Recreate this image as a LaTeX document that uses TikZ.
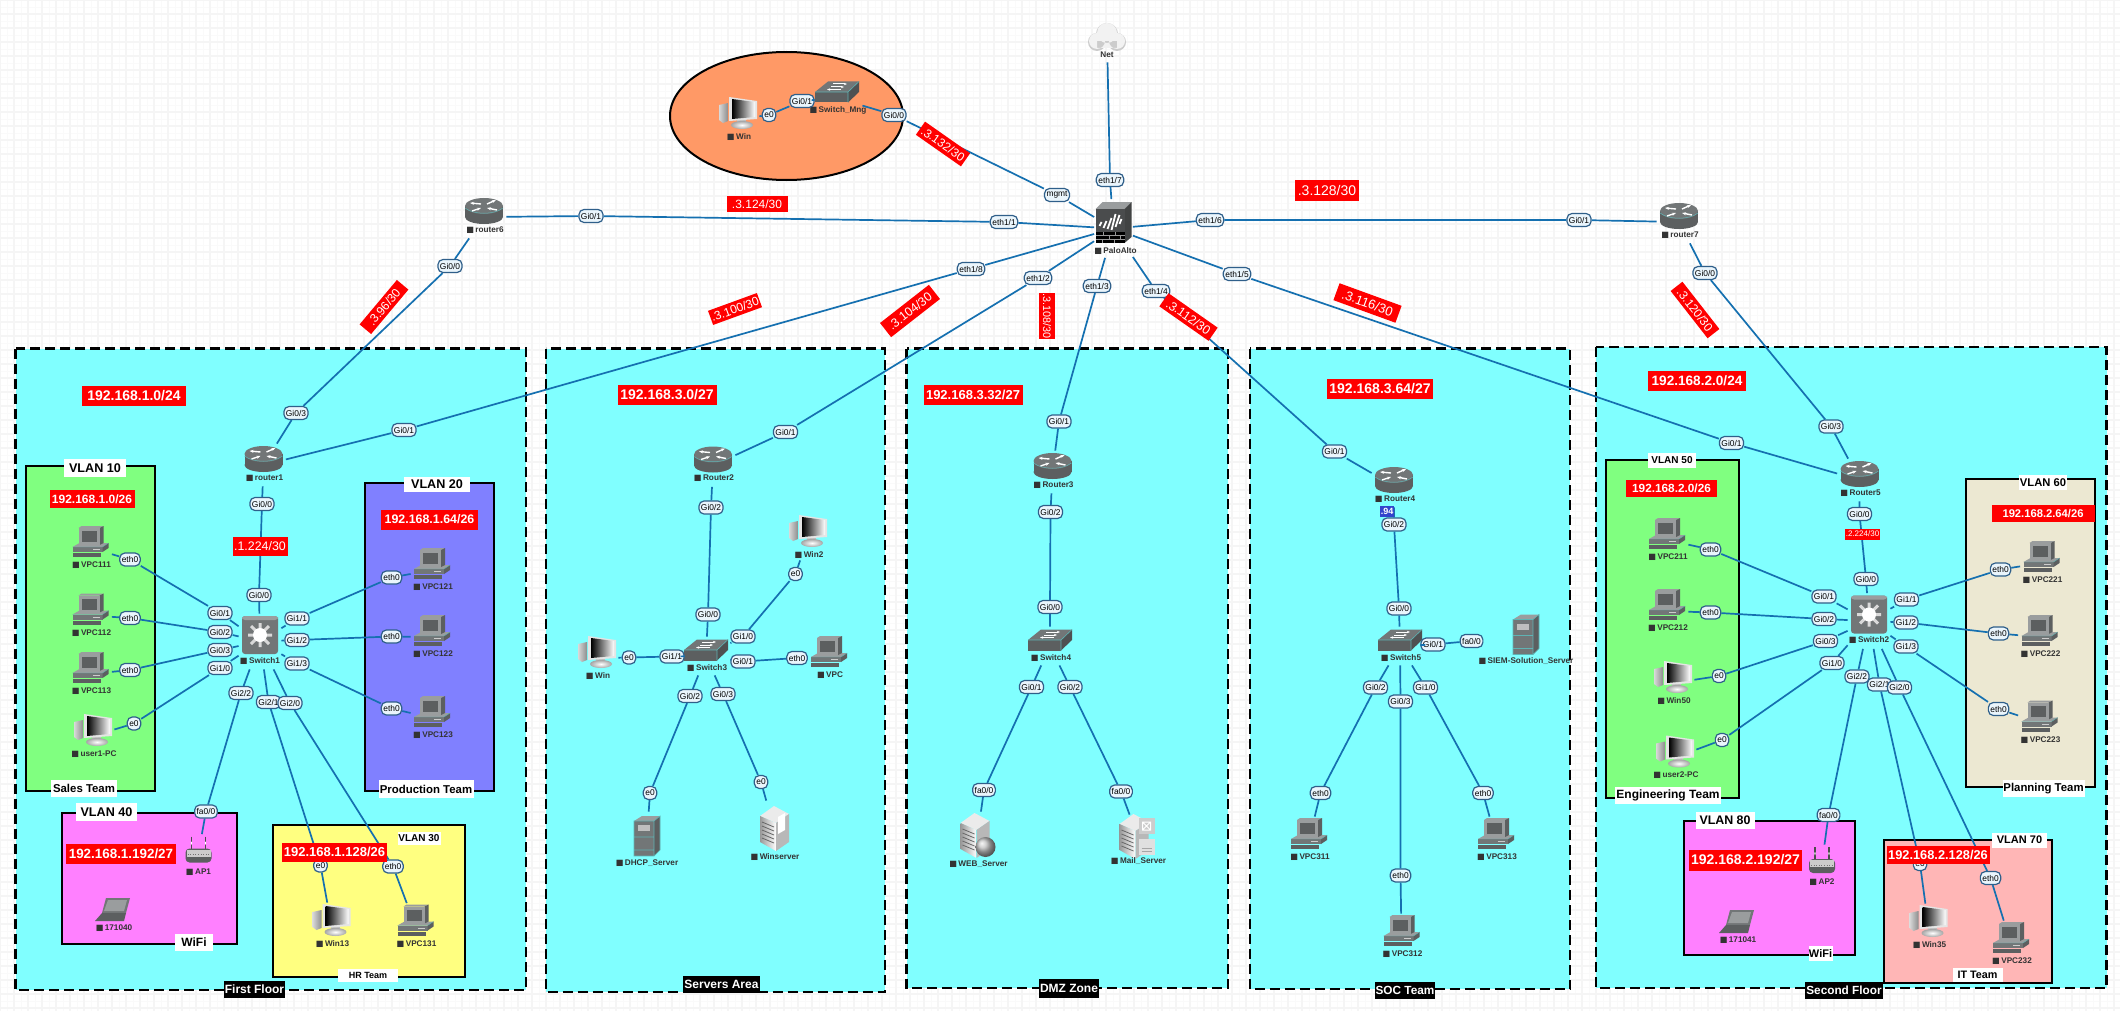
\documentclass[tikz,border=0pt]{standalone}
\usepackage{fontspec}
\setmainfont{Liberation Sans}
\newfontfamily\symfont{DejaVu Sans}
\usepackage{xcolor}
\usetikzlibrary{arrows.meta,positioning}

\definecolor{zonecyan}{HTML}{80FFFF}
\definecolor{vlangreen}{HTML}{80FF80}
\definecolor{vlanblue}{HTML}{8080FF}
\definecolor{vlanpink}{HTML}{FF80FF}
\definecolor{vlanyellow}{HTML}{FFFF80}
\definecolor{vlanbeige}{HTML}{ECE8D2}
\definecolor{vlanrose}{HTML}{FFB6B6}
\definecolor{mngorange}{HTML}{FF9966}
\definecolor{linkblue}{HTML}{1570B0}
\definecolor{portedge}{HTML}{2F5F8A}
\definecolor{portfill}{HTML}{EAF5FC}
\definecolor{tagred}{HTML}{FF0000}
\definecolor{tagblue}{HTML}{3344CC}
\definecolor{icondark}{HTML}{5C5F60}
\definecolor{iconmid}{HTML}{727677}
\definecolor{iconlight}{HTML}{9A9D9E}
\definecolor{iconedge}{HTML}{5FB3B3}
\definecolor{labelgrey}{HTML}{333333}

\newcommand{\devsq}{{\symfont ■}\,}

\begin{document}
\begin{tikzpicture}[
    x=0.5pt, y=-0.5pt,
    gridminor/.style={draw=black!2, line width=0.3pt},
    gridmajor/.style={draw=black!4, line width=0.7pt},
    zonebox/.style={draw=black, fill=zonecyan, line width=1.4pt, dash pattern=on 5pt off 2.5pt},
    vlanbox/.style={draw=black, line width=1pt},
    linkline/.style={draw=linkblue, line width=0.85pt},
    portbox/.style={draw=portedge, fill=portfill, line width=0.6pt, rounded corners=2.5pt, inner xsep=1pt, inner ysep=0pt, minimum height=6.5pt, text=black, font=\fontsize{4.2}{5}\selectfont},
    devbox/.style={inner sep=0pt, draw=none},
    devtext/.style={inner sep=0pt, text=labelgrey, font=\bfseries\fontsize{4.1}{5}\selectfont},
    nettag/.style={fill=tagred, text=white, inner sep=0pt, minimum height=10pt, font=\bfseries\fontsize{#1}{#1}\selectfont},
    subtag/.style={fill=tagred, text=white, inner sep=0pt, minimum height=8pt, font=\fontsize{#1}{#1}\selectfont},
    nametag/.style={fill=white, text=black, inner sep=0pt, minimum height=8pt, font=\bfseries\fontsize{#1}{#1}\selectfont},
    darktag/.style={fill=black, text=white, inner sep=0pt, minimum height=8.5pt, font=\bfseries\fontsize{#1}{#1}\selectfont},
    pics/pcicon/.style={code={
        \fill[icondark] (-18,11) rectangle (10,15);
        \fill[iconlight] (-18,5) -- (-11,1) -- (18,1) -- (12,5) -- cycle;
        \fill[iconmid] (-18,5) rectangle (12,10);
        \fill[icondark] (12,5) -- (18,1) -- (18,6) -- (12,10) -- cycle;
        \fill[white!80!black] (2,7) rectangle (9,8);
        \fill[iconlight] (-12,-14) -- (-9,-16) -- (13,-16) -- (9,-14) -- cycle;
        \fill[icondark] (9,-14) -- (13,-16) -- (13,1) -- (9,3) -- cycle;
        \fill[iconlight] (-12,-14) rectangle (9,3);
        \fill[icondark] (-9,-11) rectangle (6,0);
        \draw[iconedge, line width=0.2pt] (-18,5) -- (12,5) -- (18,1);
        \node[devbox, minimum width=21pt, minimum height=23pt] (-box) at (0,6) {};
        \node[devtext] (-text) at (1,23.5) {\devsq #1};
    }},
    pics/winicon/.style={code={
        \shade[left color=white!85!black, right color=black!45] (-19,-8) -- (-10,-10) -- (-10,8) -- (-15,10) -- (-19,7) -- cycle;
        \fill[white!75!black] (-1,4) rectangle (8,10);
        \shade[inner color=white, outer color=black!35] (4,12) ellipse [x radius=11, y radius=4];
        \fill[white!90!black] (-9,-16) -- (19,-12) -- (19,6) -- (-9,8) -- cycle;
        \shade[left color=black, right color=white] (-6,-14) -- (17,-11) -- (17,4) -- (-6,6) -- cycle;
        \node[devbox, minimum width=21pt, minimum height=23pt] (-box) at (0,6) {};
        \node[devtext] (-text) at (1,24) {\devsq #1};
    }},
    pics/routericon/.style={code={
        \fill[icondark] (0,6) ellipse [x radius=19, y radius=7];
        \fill[icondark] (-19,-5) rectangle (19,6);
        \fill[iconmid] (0,-5) ellipse [x radius=19, y radius=8];
        \draw[iconedge, line width=0.25pt] (-19,-3) .. controls (-10,4) and (10,4) .. (19,-3);
        \draw[white, line width=0.7pt, -{Stealth[length=2pt]}] (-3,-7) -- (-14,-8);
        \draw[white, line width=0.7pt, -{Stealth[length=2pt]}] (3,-7) -- (12,-11);
        \draw[white, line width=0.7pt, -{Stealth[length=2pt]}] (-12,0) -- (-3,-3);
        \draw[white, line width=0.7pt, -{Stealth[length=2pt]}] (13,-1) -- (3,-3);
        \node[devbox, minimum width=22pt, minimum height=21pt] (-box) at (0,6) {};
        \node[devtext] (-text) at (1,19) {\devsq #1};
    }},
    pics/switchicon/.style={code={
        \fill[iconmid] (-22,0) -- (-9,-10.5) -- (22,-10.5) -- (11,0) -- cycle;
        \fill[icondark] (-22,0) rectangle (11,10.5);
        \fill[icondark!85!black] (11,0) -- (22,-10.5) -- (22,0) -- (11,10.5) -- cycle;
        \draw[iconedge, line width=0.3pt] (-22,0) -- (11,0) -- (22,-10.5) (11,0) -- (11,10.5);
        \draw[white, line width=0.5pt, -{Stealth[length=1.6pt]}] (-4,-8) -- (10,-8);
        \draw[white, line width=0.5pt, -{Stealth[length=1.6pt]}] (-6,-5) -- (7,-5);
        \draw[white, line width=0.5pt, -{Stealth[length=1.6pt]}] (4,-2.5) -- (-10,-2.5);
        \node[devbox, minimum width=25pt, minimum height=19pt] (-box) at (0,6) {};
        \node[devtext] (-text) at (1,18.5) {\devsq #1};
    }},
    pics/coreicon/.style={code={
        \fill[iconmid, rounded corners=1.5pt] (-18,-19) rectangle (18,19);
        \fill[iconlight, rounded corners=1.5pt] (-18,-19) rectangle (18,-15);
        \draw[white!85!black, line width=1.5pt] (-12,0) -- (12,0) (0,-12) -- (0,12) (-9,-9) -- (9,9) (-9,9) -- (9,-9);
        \fill[white] (0,0) circle [radius=7];
        \node[devbox, minimum width=21pt, minimum height=27.5pt] (-box) at (0,6.5) {};
        \node[devtext] (-text) at (0,26) {\devsq #1};
    }},
    pics/fwicon/.style={code={
        \fill[iconlight] (-18,-14) -- (-11,-21) -- (18,-21) -- (11,-14) -- cycle;
        \fill[icondark!70!black] (11,-14) -- (18,-21) -- (18,14) -- (11,20) -- cycle;
        \fill[icondark!80!black] (-18,-14) rectangle (11,9);
        \fill[black] (-18,9) rectangle (11,20);
        \draw[white!60!black, line width=0.3pt] (-18,12.5) -- (11,12.5) (-18,16.5) -- (11,16.5) (-10,9) -- (-10,12.5) (2,9) -- (2,12.5) (-4,12.5) -- (-4,16.5) (7,12.5) -- (7,16.5) (-11,16.5) -- (-11,20) (1,16.5) -- (1,20);
        \draw[white, line width=0.9pt] (-14,3) -- (-12,-1) (-10,5) -- (-7,-2) (-6,6) -- (-2,-5) (-2,7) -- (2,-9) (2,4) -- (6,-8) (6,1) -- (8,-4);
        \node[devbox, minimum width=19pt, minimum height=29pt] (-box) at (0,5.5) {};
        \node[devtext] (-text) at (2,28) {\devsq #1};
    }},
    pics/cloudicon/.style={code={
        \fill[white!80!black] (-10,5) circle [radius=9] (0,-3) circle [radius=11] (10,5) circle [radius=9];
        \fill[white!95!black] (-10,4) circle [radius=8] (0,-4) circle [radius=10] (10,4) circle [radius=8] (-10,4) rectangle (10,11);
        \node[devbox, minimum width=19pt, minimum height=25pt] (-box) at (0,0) {};
        \node[devtext] (-text) at (0,18) {#1};
    }},
    pics/towericon/.style={code={
        \fill[iconlight] (-13,-15) -- (-5,-20) -- (13,-20) -- (7,-15) -- cycle;
        \fill[icondark] (7,-15) -- (13,-20) -- (13,14) -- (7,20) -- cycle;
        \fill[iconmid] (-13,-15) rectangle (7,20);
        \fill[white!75!black] (-9,-11) rectangle (3,-5);
        \draw[iconedge, line width=0.3pt] (-13,-15) rectangle (7,20) (7,-15) -- (13,-20) -- (13,14) -- (7,20) (-13,1) -- (7,1) (-13,14) -- (7,14);
        \node[devbox, minimum width=15pt, minimum height=24pt] (-box) at (0,0) {};
        \node[devtext] (-text) at (0,27) {\devsq #1};
    }},
    pics/srvbody/.style={code={
        \fill[white!92!black] (-14,-12) -- (0,-22) -- (15,-14) -- (2,-5) -- cycle;
        \shade[left color=white!60!black, right color=white] (-14,-12) -- (2,-5) -- (2,23) -- (-14,14) -- cycle;
        \fill[white!72!black] (2,-5) -- (15,-14) -- (15,14) -- (2,23) -- cycle;
        \draw[black!60, line width=0.4pt] (-12,-6) -- (0,-1) (-12,-2) -- (0,3) (-12,2) -- (0,7) (-12,6) -- (0,11) (-12,10) -- (0,15);
    }},
    pics/winsrvicon/.style={code={
        \pic at (0,0) {srvbody};
        \fill[white] (4,-11) -- (11,-15) -- (11,2) -- (4,6) -- cycle;
        \node[devbox, minimum width=16pt, minimum height=27pt] (-box) at (0,0) {};
        \node[devtext] (-text) at (1,29) {\devsq #1};
    }},
    pics/webicon/.style={code={
        \pic at (-3,-1) {srvbody};
        \shade[ball color=white!75!black] (8,11) circle [radius=10];
        \node[devbox, minimum width=17pt, minimum height=24pt] (-box) at (0,0) {};
        \node[devtext] (-text) at (1,28) {\devsq #1};
    }},
    pics/mailicon/.style={code={
        \pic at (-4,0) {srvbody};
        \fill[white!80!black] (1,-18) rectangle (17,-2);
        \draw[white, line width=0.5pt] (5,-14) rectangle (13,-6) (5,-14) -- (13,-6) (5,-6) -- (13,-14);
        \fill[white!88!black] (1,3) rectangle (17,19);
        \draw[black!35, line width=0.4pt] (4,12) -- (14,12) (4,15) -- (14,15);
        \node[devbox, minimum width=17pt, minimum height=21pt] (-box) at (0,0) {};
        \node[devtext] (-text) at (1,25) {\devsq #1};
    }},
    pics/apicon/.style={code={
        \draw[black!70, line width=0.6pt] (-7,-16) -- (-7,-4) (7,-16) -- (7,-4);
        \fill[white, rounded corners=0.5pt] (-7.6,-11) rectangle (-6.4,-8) (6.4,-11) rectangle (7.6,-8);
        \fill[icondark, rounded corners=2pt] (-13,-4) rectangle (13,10);
        \fill[white!80!black] (-12,-3) rectangle (12,4);
        \draw[black!55, line width=0.3pt, densely dotted] (-11,2) -- (11,2);
        \node[devbox, minimum width=14pt, minimum height=18pt] (-box) at (0,0) {};
        \node[devtext] (-text) at (0,19.5) {\devsq #1};
    }},
    pics/laptopicon/.style={code={
        \fill[iconmid] (-7,-12) -- (17,-12) -- (13,3) -- (-11,3) -- cycle;
        \fill[iconlight] (-5,-10) -- (14,-10) -- (11,1) -- (-9,1) -- cycle;
        \fill[icondark] (-11,3) -- (13,3) -- (11,11) -- (-18,11) -- cycle;
        \node[devbox, minimum width=18pt, minimum height=12pt] (-box) at (0,0) {};
        \node[devtext] (-text) at (1,18.5) {\devsq #1};
    }}
]
\useasboundingbox (0,0) rectangle (2120,1011);
\fill[white] (0,0) rectangle (2120,1011);
\draw[gridminor, step=3.5pt] (0,0) grid (2120,1011);
\draw[gridmajor, step=7pt] (0,0) grid (2120,1011);

% zones
\draw[zonebox] (15.5,348.5) rectangle (526,990);
\draw[zonebox] (546,348.5) rectangle (885,992);
\draw[zonebox] (906.5,348.5) rectangle (1228,988);
\draw[zonebox] (1250,348.5) rectangle (1570,989);
\draw[zonebox] (1596,347) rectangle (2106.5,988);
\draw[vlanbox, fill=mngorange] (786.5,116) ellipse [x radius=116.5, y radius=64];

% vlans
\draw[vlanbox, fill=vlangreen] (26,466) rectangle (155,790.5);
\draw[vlanbox, fill=vlanblue] (365,483) rectangle (493.5,790.5);
\draw[vlanbox, fill=vlanpink] (62,813) rectangle (236.5,944);
\draw[vlanbox, fill=vlanyellow] (272.5,825) rectangle (464.5,977);
\draw[vlanbox, fill=vlangreen] (1605.5,460) rectangle (1739,798);
\draw[vlanbox, fill=vlanbeige] (1965.5,478.5) rectangle (2094.5,787);
\draw[vlanbox, fill=vlanpink] (1683.5,821) rectangle (1854.5,955);
\draw[vlanbox, fill=vlanrose] (1883.5,839.5) rectangle (2051.5,982.5);

% devices
\pic (net) at (1107,37) {cloudicon=Net};
\pic (fw) at (1113.5,223) {fwicon=PaloAlto};
\pic (mwin) at (738,113) {winicon=Win};
\pic (swmng) at (837,92) {switchicon=Switch\_Mng};
\pic (router6) at (484,211) {routericon=router6};
\pic (router7) at (1679,216) {routericon=router7};

\pic (router1) at (263.5,459) {routericon=router1};
\pic (switch1) at (260,635) {coreicon=Switch1};
\pic (vpc111) at (90.5,542) {pcicon=VPC111};
\pic (vpc112) at (90.5,609.5) {pcicon=VPC112};
\pic (vpc113) at (90.5,668) {pcicon=VPC113};
\pic (user1) at (93,730) {winicon=user1-PC};
\pic (vpc121) at (432,564) {pcicon=VPC121};
\pic (vpc122) at (432,631) {pcicon=VPC122};
\pic (vpc123) at (432,712) {pcicon=VPC123};
\pic (ap1) at (198.5,852.5) {apicon=AP1};
\pic (lap40) at (113,910) {laptopicon=171040};
\pic (win13) at (331.5,920) {winicon=Win13};
\pic (vpc131) at (415.5,920.5) {pcicon=VPC131};

\pic (router2) at (713,459.5) {routericon=Router2};
\pic (switch3) at (706,650) {switchicon=Switch3};
\pic (win) at (597,652) {winicon=Win};
\pic (win2) at (808,531) {winicon=Win2};
\pic (vpc) at (829,652) {pcicon=VPC};
\pic (dhcp) at (647,836) {towericon=DHCP\_Server};
\pic (winsrv) at (774,828) {winsrvicon=Winserver};

\pic (router3) at (1052.5,466) {routericon=Router3};
\pic (switch4) at (1050,640) {switchicon=Switch4};
\pic (websrv) at (977.5,836) {webicon=WEB\_Server};
\pic (mailsrv) at (1137.5,836) {mailicon=Mail\_Server};

\pic (router4) at (1394,480) {routericon=Router4};
\pic (switch5) at (1400,640) {switchicon=Switch5};
\pic (siem) at (1526,634.5) {towericon=SIEM-Solution\_Server};
\pic (vpc311) at (1309,834) {pcicon=VPC311};
\pic (vpc312) at (1401.5,931) {pcicon=VPC312};
\pic (vpc313) at (1496,834) {pcicon=VPC313};

\pic (router5) at (1859.5,474) {routericon=Router5};
\pic (switch2) at (1869,614.5) {coreicon=Switch2};
\pic (vpc211) at (1667,534) {pcicon=VPC211};
\pic (vpc212) at (1667,605) {pcicon=VPC212};
\pic (win50) at (1673,677) {winicon=Win50};
\pic (user2) at (1675,751.5) {winicon=user2-PC};
\pic (vpc221) at (2041.5,557) {pcicon=VPC221};
\pic (vpc222) at (2039.5,631) {pcicon=VPC222};
\pic (vpc223) at (2039.5,716.5) {pcicon=VPC223};
\pic (ap2) at (1822,863) {apicon=AP2};
\pic (lap41) at (1737,922) {laptopicon=171041};
\pic (win35) at (1928.5,921) {winicon=Win35};
\pic (vpc232) at (2011,938) {pcicon=VPC232};

% ports, top
\node[portbox] (mwine) at (769,115) {e0};
\node[portbox] (mngg1) at (802,101) {Gi0/1};
\node[portbox] (mngg0) at (894,115) {Gi0/0};
\node[portbox] (fwmg) at (1057,195) {mgmt};
\node[portbox] (fw7) at (1110,180) {eth1/7};
\node[portbox] (fw1) at (1004,222) {eth1/1};
\node[portbox] (fw6) at (1210,220) {eth1/6};
\node[portbox] (fw8) at (971,269) {eth1/8};
\node[portbox] (fw2) at (1038,278) {eth1/2};
\node[portbox] (fw3) at (1097,286) {eth1/3};
\node[portbox] (fw4) at (1156,291) {eth1/4};
\node[portbox] (fw5) at (1237,274) {eth1/5};
\node[portbox] (r6g1) at (591,216) {Gi0/1};
\node[portbox] (r6g0) at (450,266) {Gi0/0};
\node[portbox] (r7g1) at (1579,220) {Gi0/1};
\node[portbox] (r7g0) at (1705,273) {Gi0/0};

% ports, first floor
\node[portbox] (r1g3) at (296,413) {Gi0/3};
\node[portbox] (r1g1) at (404,430) {Gi0/1};
\node[portbox] (r1g0) at (262,504) {Gi0/0};
\node[portbox] (s1g00) at (259,595) {Gi0/0};
\node[portbox] (s1g01) at (220,613) {Gi0/1};
\node[portbox] (s1g02) at (220,632) {Gi0/2};
\node[portbox] (s1g03) at (220,650) {Gi0/3};
\node[portbox] (s1g10) at (220,668) {Gi1/0};
\node[portbox] (s1g11) at (297,618.5) {Gi1/1};
\node[portbox] (s1g12) at (297,640) {Gi1/2};
\node[portbox] (s1g13) at (297,663.5) {Gi1/3};
\node[portbox] (s1g22) at (241,693) {Gi2/2};
\node[portbox] (s1g21) at (268.5,702) {Gi2/1};
\node[portbox] (s1g20) at (290,703) {Gi2/0};
\node[portbox] (v111e) at (130,559.5) {eth0};
\node[portbox] (v112e) at (130,618) {eth0};
\node[portbox] (v113e) at (130,670) {eth0};
\node[portbox] (u1e) at (134,723.5) {e0};
\node[portbox] (v121e) at (391.5,577.5) {eth0};
\node[portbox] (v122e) at (391.5,636.5) {eth0};
\node[portbox] (v123e) at (391.5,708.5) {eth0};
\node[portbox] (ap1f) at (206,811.5) {fa0/0};
\node[portbox] (w13e) at (320.5,865.5) {e0};
\node[portbox] (v131e) at (393,866.5) {eth0};

% ports, servers
\node[portbox] (r2g1) at (785.5,432) {Gi0/1};
\node[portbox] (r2g2) at (711,507.5) {Gi0/2};
\node[portbox] (s3g00) at (708,614.5) {Gi0/0};
\node[portbox] (s3g11) at (672,656.5) {Gi1/1};
\node[portbox] (s3g10) at (743,636.5) {Gi1/0};
\node[portbox] (s3g01) at (743,661.5) {Gi0/1};
\node[portbox] (s3g02) at (690,696) {Gi0/2};
\node[portbox] (s3g03) at (723,694) {Gi0/3};
\node[portbox] (wine) at (629,657.5) {e0};
\node[portbox] (win2e) at (795.5,574) {e0};
\node[portbox] (vpce) at (797,658) {eth0};
\node[portbox] (dhcpe) at (650,793) {e0};
\node[portbox] (wsrve) at (761,782) {e0};

% ports, dmz
\node[portbox] (r3g1) at (1059,421.5) {Gi0/1};
\node[portbox] (r3g2) at (1050.5,512) {Gi0/2};
\node[portbox] (s4g00) at (1050,607) {Gi0/0};
\node[portbox] (s4g01) at (1031.5,687) {Gi0/1};
\node[portbox] (s4g02) at (1070,687) {Gi0/2};
\node[portbox] (webf) at (984,790) {fa0/0};
\node[portbox] (mailf) at (1121,791.5) {fa0/0};

% ports, soc
\node[portbox] (r4g1) at (1334.5,451.5) {Gi0/1};
\node[portbox] (r4g2) at (1394,524.5) {Gi0/2};
\node[portbox] (s5g00) at (1399,608.5) {Gi0/0};
\node[portbox] (s5g01) at (1433,644.5) {Gi0/1};
\node[portbox] (s5g02) at (1375.5,687.5) {Gi0/2};
\node[portbox] (s5g03) at (1400.5,701.5) {Gi0/3};
\node[portbox] (s5g10) at (1425.5,687.5) {Gi1/0};
\node[portbox] (siemf) at (1471.5,641) {fa0/0};
\node[portbox] (v311e) at (1320.5,793) {eth0};
\node[portbox] (v312e) at (1400.5,875.5) {eth0};
\node[portbox] (v313e) at (1483,793) {eth0};

% ports, second floor
\node[portbox] (r5g3) at (1831,426.5) {Gi0/3};
\node[portbox] (r5g1) at (1731.5,443) {Gi0/1};
\node[portbox] (r5g0) at (1859.5,514) {Gi0/0};
\node[portbox] (s2g00) at (1866,579) {Gi0/0};
\node[portbox] (s2g01) at (1824,596.5) {Gi0/1};
\node[portbox] (s2g02) at (1824,619) {Gi0/2};
\node[portbox] (s2g03) at (1825.5,641) {Gi0/3};
\node[portbox] (s2g10) at (1832,663) {Gi1/0};
\node[portbox] (s2g11) at (1906.5,599.5) {Gi1/1};
\node[portbox] (s2g12) at (1906,622.5) {Gi1/2};
\node[portbox] (s2g13) at (1906,646.5) {Gi1/3};
\node[portbox] (s2g22) at (1857,676.5) {Gi2/2};
\node[portbox] (s2g21) at (1879.5,684.5) {Gi2/1};
\node[portbox] (s2g20) at (1899.5,687.5) {Gi2/0};
\node[portbox] (v211e) at (1710.5,549.5) {eth0};
\node[portbox] (v212e) at (1710.5,612.5) {eth0};
\node[portbox] (w50e) at (1719,676) {e0};
\node[portbox] (u2e) at (1722,740) {e0};
\node[portbox] (v221e) at (2000.5,569.5) {eth0};
\node[portbox] (v222e) at (1998.5,633.5) {eth0};
\node[portbox] (v223e) at (1998.5,709) {eth0};
\node[portbox] (ap2f) at (1828.5,815) {fa0/0};
\node[portbox] (w35e) at (1920,864) {e0};
\node[portbox] (v232e) at (1990.5,878) {eth0};

% links
\draw[linkline] (net-box) -- (fw7) -- (fw-box);
\draw[linkline] (mwin-box) -- (mwine) -- (mngg1) -- (swmng-box);
\draw[linkline] (swmng-box) -- (mngg0) -- (fwmg) -- (fw-box);
\draw[linkline] (router6-box) -- (r6g1) -- (fw1) -- (fw-box);
\draw[linkline] (router7-box) -- (r7g1) -- (fw6) -- (fw-box);
\draw[linkline] (router6-box) -- (r6g0) -- (r1g3) -- (router1-box);
\draw[linkline] (router7-box) -- (r7g0) -- (r5g3) -- (router5-box);
\draw[linkline] (router1-box) -- (r1g1) -- (fw8) -- (fw-box);
\draw[linkline] (router2-box) -- (r2g1) -- (fw2) -- (fw-box);
\draw[linkline] (router3-box) -- (r3g1) -- (fw3) -- (fw-box);
\draw[linkline] (router4-box) -- (r4g1) -- (fw4) -- (fw-box);
\draw[linkline] (router5-box) -- (r5g1) -- (fw5) -- (fw-box);

\draw[linkline] (router1-box) -- (r1g0) -- (s1g00) -- (switch1-box);
\draw[linkline] (switch1-box) -- (s1g01) -- (v111e) -- (vpc111-box);
\draw[linkline] (switch1-box) -- (s1g02) -- (v112e) -- (vpc112-box);
\draw[linkline] (switch1-box) -- (s1g03) -- (v113e) -- (vpc113-box);
\draw[linkline] (switch1-box) -- (s1g10) -- (u1e) -- (user1-box);
\draw[linkline] (switch1-box) -- (s1g11) -- (v121e) -- (vpc121-box);
\draw[linkline] (switch1-box) -- (s1g12) -- (v122e) -- (vpc122-box);
\draw[linkline] (switch1-box) -- (s1g13) -- (v123e) -- (vpc123-box);
\draw[linkline] (switch1-box) -- (s1g22) -- (ap1f) -- (ap1-box);
\draw[linkline] (switch1-box) -- (s1g21) -- (w13e) -- (win13-box);
\draw[linkline] (switch1-box) -- (s1g20) -- (v131e) -- (vpc131-box);

\draw[linkline] (router2-box) -- (r2g2) -- (s3g00) -- (switch3-box);
\draw[linkline] (switch3-box) -- (s3g11) -- (wine) -- (win-box);
\draw[linkline] (switch3-box) -- (s3g10) -- (win2e) -- (win2-box);
\draw[linkline] (switch3-box) -- (s3g01) -- (vpce) -- (vpc-box);
\draw[linkline] (switch3-box) -- (s3g02) -- (dhcpe) -- (dhcp-box);
\draw[linkline] (switch3-box) -- (s3g03) -- (wsrve) -- (winsrv-box);

\draw[linkline] (router3-box) -- (r3g2) -- (s4g00) -- (switch4-box);
\draw[linkline] (switch4-box) -- (s4g01) -- (webf) -- (websrv-box);
\draw[linkline] (switch4-box) -- (s4g02) -- (mailf) -- (mailsrv-box);

\draw[linkline] (router4-box) -- (r4g2) -- (s5g00) -- (switch5-box);
\draw[linkline] (switch5-box) -- (s5g01) -- (siemf);
\draw[linkline] (switch5-box) -- (s5g02) -- (v311e) -- (vpc311-box);
\draw[linkline] (switch5-box) -- (s5g03) -- (v312e) -- (vpc312-box);
\draw[linkline] (switch5-box) -- (s5g10) -- (v313e) -- (vpc313-box);

\draw[linkline] (router5-box) -- (r5g0) -- (s2g00) -- (switch2-box);
\draw[linkline] (switch2-box) -- (s2g01) -- (v211e) -- (vpc211-box);
\draw[linkline] (switch2-box) -- (s2g02) -- (v212e) -- (vpc212-box);
\draw[linkline] (switch2-box) -- (s2g03) -- (w50e) -- (win50-box);
\draw[linkline] (switch2-box) -- (s2g10) -- (u2e) -- (user2-box);
\draw[linkline] (switch2-box) -- (s2g11) -- (v221e) -- (vpc221-box);
\draw[linkline] (switch2-box) -- (s2g12) -- (v222e) -- (vpc222-box);
\draw[linkline] (switch2-box) -- (s2g13) -- (v223e) -- (vpc223-box);
\draw[linkline] (switch2-box) -- (s2g22) -- (ap2f) -- (ap2-box);
\draw[linkline] (switch2-box) -- (s2g21) -- (w35e) -- (win35-box);
\draw[linkline] (switch2-box) -- (s2g20) -- (v232e) -- (vpc232-box);

% red link tags
\node[subtag=6, minimum width=27.5pt, minimum height=8pt, rotate=-35] (t132) at (943,144) {.3.132/30};
\node[subtag=6, minimum width=30.5pt] (t124) at (757,204) {.3.124/30};
\node[subtag=7, minimum width=32pt, minimum height=10.5pt] (t128) at (1327,190) {.3.128/30};
\node[subtag=6, minimum width=26pt, minimum height=7.5pt, rotate=20] (t100) at (735,309) {.3.100/30};
\node[subtag=6.2, minimum width=31pt, minimum height=9pt, rotate=38] (t104) at (910,311) {.3.104/30};
\node[subtag=5.4, minimum width=23pt, rotate=-90] (t108) at (1047,316) {.3.108/30};
\node[subtag=6.2, minimum width=30pt, rotate=-35] (t112) at (1188.5,317) {.3.112/30};
\node[subtag=6.5, minimum width=33pt, minimum height=9pt, rotate=-20] (t116) at (1367.5,303) {.3.116/30};
\node[subtag=6, minimum width=29pt, minimum height=7.5pt, rotate=50] (t96) at (384,307) {.3.96/30};
\node[subtag=6, minimum width=30pt, minimum height=7.5pt, rotate=-52] (t120) at (1695,310) {.3.120/30};
\node[subtag=6.2, minimum width=27.5pt, minimum height=9.5pt] (t1224) at (260,546.5) {.1.224/30};
\node[subtag=4, minimum width=17.5pt, minimum height=5.5pt] (t2224) at (1862.5,534) {.2.224/30};
\node[fill=tagblue, text=white, inner sep=0pt, minimum width=7pt, minimum height=5.5pt, font=\bfseries\fontsize{4.5}{5}\selectfont] (t94) at (1387,511.5) {.94};

% subnets
\node[nettag=7, minimum width=52pt] (n1) at (134,396) {192.168.1.0/24};
\node[nettag=6, minimum width=42.5pt, minimum height=9pt] (n10) at (92,499) {192.168.1.0/26};
\node[nettag=6.2, minimum width=48.5pt] (n20) at (429.5,519.5) {192.168.1.64/26};
\node[nettag=6.7, minimum width=55pt] (n40) at (121,853.5) {192.168.1.192/27};
\node[nettag=6.5, minimum width=52.5pt, minimum height=9.5pt] (n30) at (334.5,852) {192.168.1.128/26};
\node[nettag=7, minimum width=49.5pt] (n3) at (667,395) {192.168.3.0/27};
\node[nettag=6.5, minimum width=49.5pt] (n32) at (973,395) {192.168.3.32/27};
\node[nettag=7, minimum width=53pt] (n64) at (1380,389) {192.168.3.64/27};
\node[nettag=6.8, minimum width=49pt] (n2) at (1697,381) {192.168.2.0/24};
\node[nettag=5.9, minimum width=45.5pt, minimum height=8.5pt] (n50) at (1671.5,488.5) {192.168.2.0/26};
\node[nettag=5.6, minimum width=51.5pt, minimum height=8.5pt] (n60) at (2043,513.5) {192.168.2.64/26};
\node[nettag=7, minimum width=56.5pt, minimum height=10.5pt] (n80) at (1745.5,860) {192.168.2.192/27};
\node[nettag=6.4, minimum width=51.5pt, minimum height=9pt] (n70) at (1938,854.5) {192.168.2.128/26};

% names
\node[nametag=6.3, minimum width=31pt, minimum height=9pt] (vl10) at (95,468) {VLAN 10};
\node[nametag=6.3, minimum width=33pt, minimum height=7.5pt] (vl20) at (437,484.5) {VLAN 20};
\node[nametag=6.3, minimum width=30.5pt, minimum height=9pt] (vl40) at (106.5,812) {VLAN 40};
\node[nametag=5, minimum width=21.5pt, minimum height=6.5pt] (vl30) at (419,838.5) {VLAN 30};
\node[nametag=5, minimum width=24pt, minimum height=7.5pt] (vl50) at (1672,460) {VLAN 50};
\node[nametag=5.6, minimum width=24pt, minimum height=7.5pt] (vl60) at (2043,482.5) {VLAN 60};
\node[nametag=6.2, minimum width=29.5pt, minimum height=8.5pt] (vl80) at (1725,820.5) {VLAN 80};
\node[nametag=5.5, minimum width=27.5pt, minimum height=7.5pt] (vl70) at (2019.5,840) {VLAN 70};
\node[nametag=5.7, minimum width=33pt, minimum height=8.5pt] (sales) at (84,788.5) {Sales Team};
\node[nametag=5.7, minimum width=47.5pt, minimum height=9pt] (prod) at (426,789) {Production Team};
\node[nametag=6, minimum width=19pt, minimum height=8.5pt] (wifi1) at (194,942) {WiFi};
\node[nametag=4.5, minimum width=30pt, minimum height=6.5pt] (hr) at (368,975.5) {HR Team};
\node[nametag=6, minimum width=53pt, minimum height=8.5pt] (eng) at (1668,795.5) {Engineering Team};
\node[nametag=5.7, minimum width=41pt, minimum height=8.5pt] (plan) at (2043.5,788.5) {Planning Team};
\node[nametag=5.5, minimum width=12pt, minimum height=7.5pt] (wifi2) at (1820.5,953.5) {WiFi};
\node[nametag=5.4, minimum width=25pt, minimum height=7pt] (it) at (1977.5,975) {IT Team};
\node[darktag=6, minimum width=30.5pt] (floor1) at (254.5,989.5) {First Floor};
\node[darktag=6, minimum width=38.5pt] (servers) at (721.5,984) {Servers Area};
\node[darktag=6, minimum width=30pt, minimum height=9.5pt] (dmz) at (1069,988.5) {DMZ Zone};
\node[darktag=5.9, minimum width=30pt] (soc) at (1405,990.5) {SOC Team};
\node[darktag=5.9, minimum width=39pt] (floor2) at (1844,990.5) {Second Floor};
\end{tikzpicture}
\end{document}
